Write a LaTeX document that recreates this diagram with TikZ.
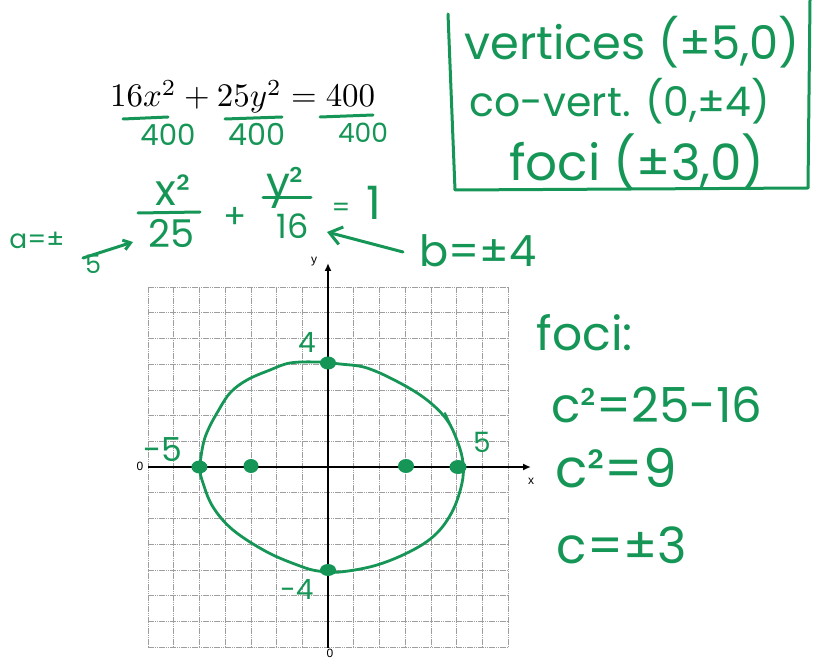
\documentclass[tikz,border=0pt]{standalone}
\usepackage{fontspec}
\usepackage{graphicx}
\newfontfamily\hw{Poppins}
\newfontfamily\axf{Liberation Sans}
\usetikzlibrary{arrows.meta}
\definecolor{pen}{RGB}{22,150,86}
\newcommand\hwbox[2]{\resizebox{#1pt}{!}{\hw #2}}
\newcommand\hwsz[2]{{\hw\fontsize{#1}{#1}\selectfont #2}}
\begin{document}
\begin{tikzpicture}[x=1pt,y=-1pt,
  hand/.style={text=pen, inner sep=0pt, anchor=center},
  penline/.style={draw=pen, line width=3pt, line cap=round, line join=round},
  gridline/.style={draw=black!38, line width=0.7pt, dash pattern=on 1.6pt off 0.6pt},
  axis/.style={draw=black, line width=1.8pt, -{Latex[length=8pt,width=7pt]}},
  axlabel/.style={font=\axf\fontsize{12}{14}\selectfont, inner sep=0pt},
  dot/.style={fill=pen}
]
\useasboundingbox (0,0) rectangle (814,660);

% ---- boxed summary ----
\draw[penline] (448,14) -- (455,190) -- (808,188) -- (810,0);
\node[hand] (vert) at (632,42) {\hwbox{335}{vertices (±5,0)}};
\node[hand] (cov) at (620,101) {\hwbox{300}{co-vert. (0,±4)}};
\node[hand] (foc) at (637,162) {\hwbox{255}{foci (±3,0)}};

% ---- equation ----
\node[inner sep=0pt, anchor=base west] (eq) at (110,107) {\resizebox{265pt}{!}{$16x^2+25y^2=400$}};
\draw[penline] (123,119) -- (168,117);
\draw[penline] (225,119) -- (282,117);
\draw[penline] (320,117) -- (373,115);
\node[hand] (d1) at (168,135) {\hwbox{55}{400}};
\node[hand] (d2) at (257,134) {\hwbox{57}{400}};
\node[hand] (d3) at (363,133) {\hwbox{50}{400}};

% ---- standard form ----
\node[hand] (xsq) at (173,190) {\hwbox{35}{x²}};
\draw[penline] (138,213) -- (200,212);
\node[hand] (den25) at (172,233) {\hwbox{46}{25}};
\node[hand] (plus) at (235,218) {\hwsz{34}{+}};
\node[hand] (ysq) at (285,188) {\hwbox{38}{y²}};
\draw[penline] (263,198) -- (311,198);
\node[hand] (den16) at (293,226) {\hwbox{32}{16}};
\node[hand] (eq1) at (341,210) {\hwsz{26}{=}};
\node[hand] (one) at (374,203) {\hwsz{46}{1}};

% a = ±5
\node[hand] (aeq) at (37,240) {\hwbox{55}{a=±}};
\node[hand] (five) at (93,264) {\hwbox{16}{5}};
\coordinate (astart) at (83,258);
\coordinate (atip) at (133,242);
\draw[penline, -{Straight Barb[length=7pt,width=10pt]}] (astart) -- (atip);

% b = ±4
\node[hand] (beq) at (478,251) {\hwbox{117}{b=±4}};
\coordinate (bstart) at (403,252);
\coordinate (btip) at (327,232);
\draw[penline, -{Straight Barb[length=12pt,width=18pt]}] (bstart) -- (btip);

% ---- grid ----
\foreach \i in {0,...,14} {
  \draw[gridline] ({148+\i*25.714},287) -- ({148+\i*25.714},647);
  \draw[gridline] (148,{287+\i*25.714}) -- (508,{287+\i*25.714});
}
\coordinate (O) at (328,467);
\coordinate (xl) at (148,467);
\coordinate (xr) at (531,467);
\coordinate (yb) at (328,648);
\coordinate (yt) at (328,263);
\draw[axis] (xl) -- (xr);
\draw[axis] (yb) -- (yt);
\node[axlabel] (ylab) at (314,262) {y};
\node[axlabel] (xlab) at (531,481) {x};
\node[axlabel] (zl) at (140,466) {0};
\node[axlabel] (zb) at (330,653) {0};

% ---- ellipse (hand drawn) ----
\draw[penline, line width=2.8pt] plot[smooth cycle, tension=0.6] coordinates {
 (200,468) (203,445) (208,430) (217,413) (230,393) (247,380) (270,370) (290,363)
 (317,362) (340,364) (367,368) (400,383) (427,400) (447,420) (458,443) (463,463)
 (462,483) (453,510) (437,533) (413,550) (377,565) (340,572) (318,571) (300,566)
 (267,552) (233,530) (213,507) (203,483)};
\draw[penline, line width=2pt] (445,413) -- (451,426);

% ---- points ----
\fill[dot] (199.4,467) ellipse (8 and 6.5);
\fill[dot] (251,466) ellipse (7.5 and 7);
\fill[dot] (406,466) ellipse (8 and 7);
\fill[dot] (458,467) ellipse (8.5 and 7);
\fill[dot] (328,363) ellipse (8 and 6.5);
\fill[dot] (328,570) ellipse (8 and 6);

\node[hand] (l4) at (307,342) {\hwsz{28}{4}};
\node[hand] (lm5) at (163,450) {\hwbox{39}{-5}};
\node[hand] (l5) at (482,442) {\hwsz{28}{5}};
\node[hand] (lm4) at (297,589) {\hwbox{33}{-4}};

% ---- foci work ----
\node[hand] (focw) at (585,333) {\hwbox{96}{foci:}};
\node[hand] (c1) at (657,405) {\hwbox{211}{c²=25-16}};
\node[hand] (c2) at (616,468) {\hwbox{122}{c²=9}};
\node[hand] (c3) at (622,545) {\hwbox{130}{c=±3}};
\end{tikzpicture}
\end{document}
